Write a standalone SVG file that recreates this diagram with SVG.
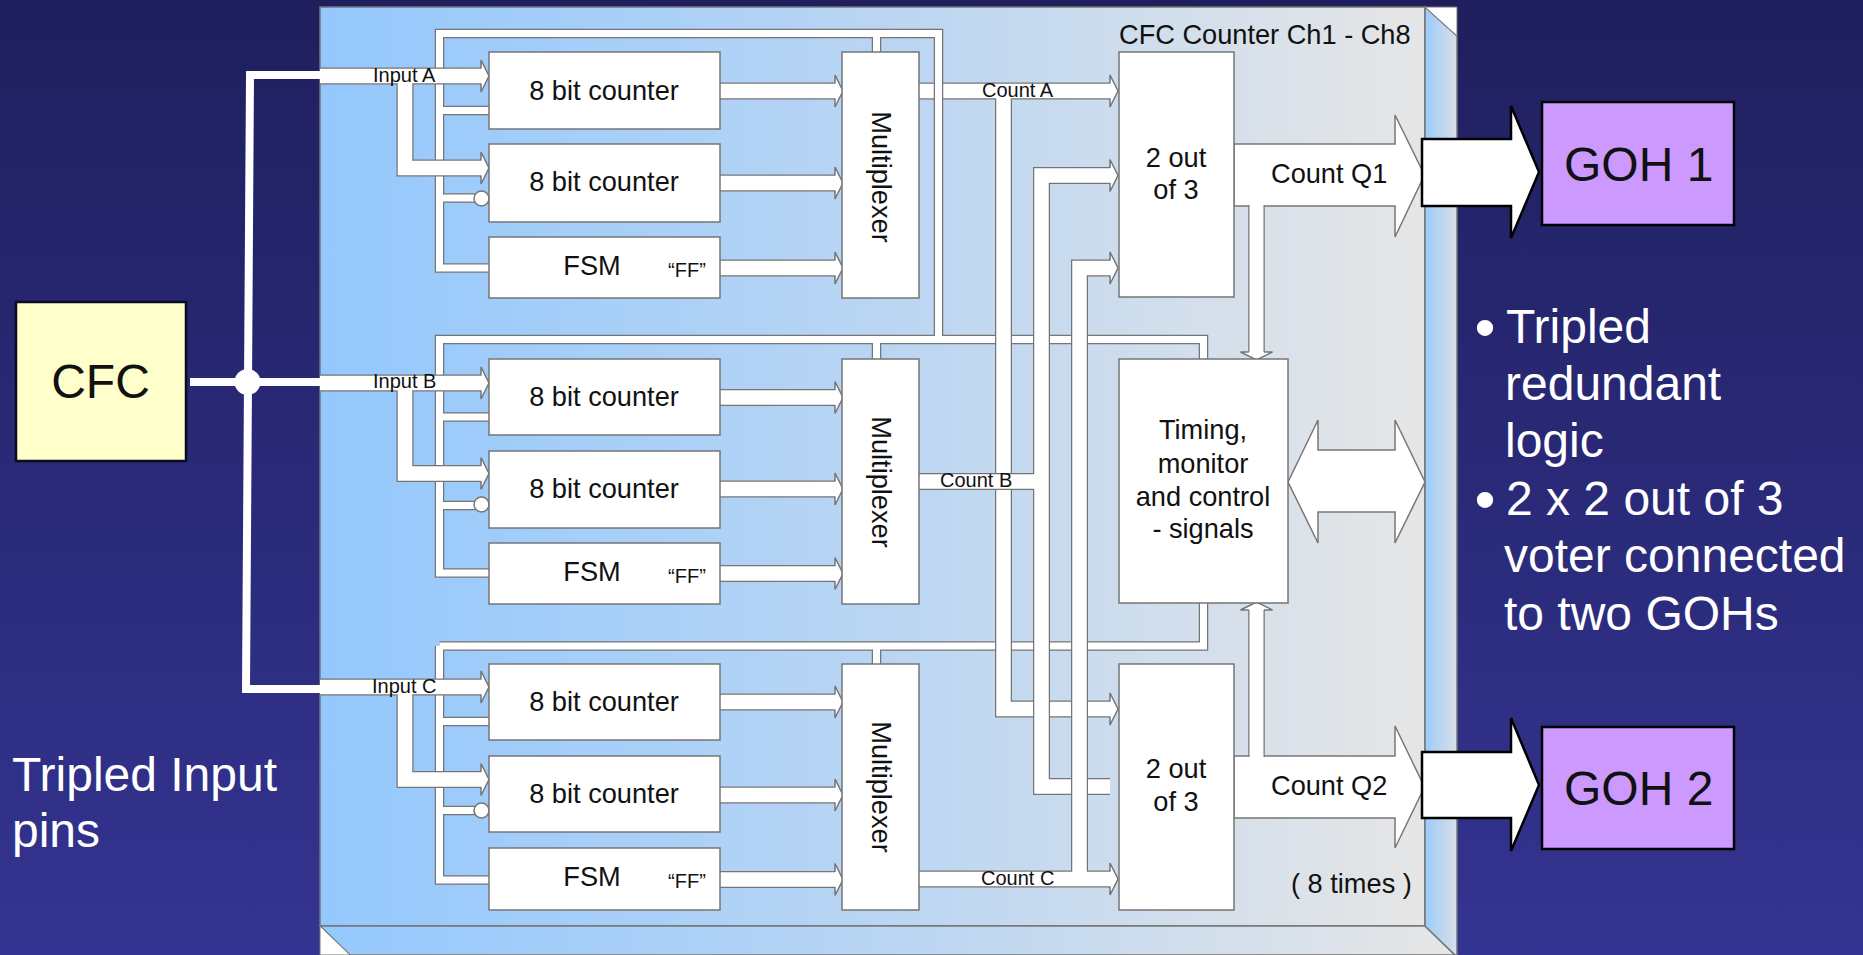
<svg xmlns="http://www.w3.org/2000/svg" width="1863" height="955" viewBox="0 0 1863 955">
<style>
text{font-family:"Liberation Sans",Arial,sans-serif;fill:#111}
.c{text-anchor:middle}
.f27{font-size:27.2px}
.f20{font-size:20px}
.big{font-size:48px;fill:#fff}
.blk{fill:#fff;stroke:#757575;stroke-width:1.5}
.o{fill:none;stroke:#757575;stroke-width:17}
.w{fill:none;stroke:#fff;stroke-width:14.5;marker-end:url(#h)}
.bo{fill:none;stroke:#757575;stroke-width:9.5}
.bw{fill:none;stroke:#fff;stroke-width:7}
.fat{fill:#fff;stroke:#777;stroke-width:1.5}
.ext{fill:#fff;stroke:#000;stroke-width:2.5}
.inv{fill:#fff;stroke:#757575;stroke-width:1.5}
</style>
<defs>
<linearGradient id="bg" x1="0" y1="0" x2="0" y2="1"><stop offset="0" stop-color="#1f1f5e"/><stop offset="1" stop-color="#343492"/></linearGradient>
<linearGradient id="face" x1="0" y1="0" x2="1" y2="0"><stop offset="0" stop-color="#94c8fd"/><stop offset="0.5" stop-color="#b9d5f3"/><stop offset="1" stop-color="#e6e6e6"/></linearGradient>
<linearGradient id="side" x1="0" y1="0" x2="1" y2="0"><stop offset="0" stop-color="#9ccbfb"/><stop offset="1" stop-color="#d8e0e6"/></linearGradient>
<marker id="h" markerUnits="userSpaceOnUse" orient="auto" markerWidth="12" markerHeight="36" refX="0" refY="18" viewBox="0 0 12 36" overflow="visible"><path d="M0 25.5V34L8 18L0 2V10.5" fill="#fff" stroke="#757575" stroke-width="1.5"/></marker>
</defs>
<rect width="1863" height="955" fill="url(#bg)"/>
<g id="panel">
<rect x="320" y="7" width="1105" height="919" fill="url(#face)" stroke="#757575" stroke-width="1.5"/>
<path d="M320 926H1425L1455 955H350Z" fill="url(#face)" stroke="#757575" stroke-width="1.5"/>
<path d="M1425 7L1457 36V955H1455L1425 926Z" fill="url(#side)" stroke="#757575" stroke-width="1.5"/>
<path d="M1425 7H1457V36Z" fill="#fff" stroke="#757575" stroke-width="1"/>
<path d="M320 926L350 955H320Z" fill="#fff" stroke="#757575" stroke-width="1"/>
</g>
<g id="connectors">
<path d="M320 75H250L246 689H320M190 382H320" fill="none" stroke="#fff" stroke-width="8"/>
<circle cx="247.5" cy="382" r="13" fill="#fff"/>
<path class="o" d="M919 91H1110"/><path class="w" d="M919 91H1110"/>
<path class="bo" d="M489 268H439.5V33.5H938.5V339.5H439.5V573H489M439.5 110.5H489M439.5 198H475M876.5 33.5V55M876.5 339.5V362M439.5 417H489M439.5 505.5H475M938.5 339.5H1203.5V362M439.5 646H1203.5V600M489 880H439.5V646M439.5 721.5H489M439.5 810.5H475M876.5 646V667"/>
<path class="bw" d="M489 268H439.5V33.5H938.5V339.5H439.5V573H489M439.5 110.5H489M439.5 198H475M876.5 33.5V55M876.5 339.5V362M439.5 417H489M439.5 505.5H475M938.5 339.5H1203.5V362M439.5 646H1203.5V600M489 880H439.5V646M439.5 721.5H489M439.5 810.5H475M876.5 646V667"/>
<circle class="inv" cx="481.5" cy="198.5" r="7.5"/><circle class="inv" cx="481.5" cy="504.5" r="7.5"/><circle class="inv" cx="481.5" cy="810.5" r="7.5"/>
<path class="o" d="M320 76H481M405 76V168H481"/><path class="w" d="M320 76H481"/><path class="w" d="M405 76V168H481"/>
<path class="o" d="M320 383H481M405 383V473.5H481"/><path class="w" d="M320 383H481"/><path class="w" d="M405 383V473.5H481"/>
<path class="o" d="M320 687H481M405 687V779.5H481"/><path class="w" d="M320 687H481"/><path class="w" d="M405 687V779.5H481"/>
<path class="o" d="M720 91H835"/><path class="w" d="M720 91H835"/>
<path class="o" d="M720 183H835"/><path class="w" d="M720 183H835"/>
<path class="o" d="M720 268H835"/><path class="w" d="M720 268H835"/>
<path class="o" d="M720 397.5H835"/><path class="w" d="M720 397.5H835"/>
<path class="o" d="M720 489H835"/><path class="w" d="M720 489H835"/>
<path class="o" d="M720 573.5H835"/><path class="w" d="M720 573.5H835"/>
<path class="o" d="M720 702H835"/><path class="w" d="M720 702H835"/>
<path class="o" d="M720 795H835"/><path class="w" d="M720 795H835"/>
<path class="o" d="M720 879.5H835"/><path class="w" d="M720 879.5H835"/>
<path class="o" d="M1003.5 99V709H1110"/><path class="w" d="M1003.5 90V709H1110"/>
<path class="o" d="M1110 175.5H1041.5V786.5H1110M919 481.5H1041.5"/><path class="w" d="M1110 786.5H1041.5V175.5H1110"/><path class="w" d="M919 481.5H1041.5" style="marker-end:none"/>
<path class="o" d="M1110 268H1079.5V879M919 879H1110"/><path class="w" d="M1079.5 879V268H1110"/><path class="w" d="M919 879H1110"/>
<path class="fat" d="M1234 144H1395V115L1424.5 175L1395 237V206H1234Z"/>
<path class="fat" d="M1234 756H1395V726L1424.5 787L1395 848V818H1234Z"/>
<path class="o" d="M1256.5 205V352" style="stroke-width:16.5"/><path class="w" d="M1256.5 203V352" style="stroke-width:14"/>
<path class="o" d="M1256.5 757V610" style="stroke-width:16.5"/><path class="w" d="M1256.5 759V610" style="stroke-width:14"/>
<path class="fat" d="M1288 482L1318 420V450H1395V420L1425 482L1395 543V512H1318V543Z"/>
</g>
<g id="counter-a1"><rect class="blk" x="489" y="52" width="231" height="77"/><text class="c f27" x="604" y="100">8 bit counter</text></g>
<g id="counter-a2"><rect class="blk" x="489" y="144" width="231" height="78"/><text class="c f27" x="604" y="191">8 bit counter</text></g>
<g id="fsm-a"><rect class="blk" x="489" y="237" width="231" height="61"/><text class="c f27" x="592" y="275">FSM</text><text class="c f20" x="687" y="277">“FF”</text></g>
<g id="mux-a"><rect class="blk" x="842" y="52" width="77" height="246"/><text class="c f27" transform="translate(872 177) rotate(90)">Multiplexer</text></g>
<g id="counter-b1"><rect class="blk" x="489" y="359" width="231" height="76"/><text class="c f27" x="604" y="406">8 bit counter</text></g>
<g id="counter-b2"><rect class="blk" x="489" y="451" width="231" height="77"/><text class="c f27" x="604" y="498">8 bit counter</text></g>
<g id="fsm-b"><rect class="blk" x="489" y="543" width="231" height="61"/><text class="c f27" x="592" y="581">FSM</text><text class="c f20" x="687" y="583">“FF”</text></g>
<g id="mux-b"><rect class="blk" x="842" y="359" width="77" height="245"/><text class="c f27" transform="translate(872 482) rotate(90)">Multiplexer</text></g>
<g id="counter-c1"><rect class="blk" x="489" y="664" width="231" height="76"/><text class="c f27" x="604" y="711">8 bit counter</text></g>
<g id="counter-c2"><rect class="blk" x="489" y="756" width="231" height="76"/><text class="c f27" x="604" y="803">8 bit counter</text></g>
<g id="fsm-c"><rect class="blk" x="489" y="848" width="231" height="62"/><text class="c f27" x="592" y="886">FSM</text><text class="c f20" x="687" y="888">“FF”</text></g>
<g id="mux-c"><rect class="blk" x="842" y="664" width="77" height="246"/><text class="c f27" transform="translate(872 787) rotate(90)">Multiplexer</text></g>
<g id="voter-1"><rect class="blk" x="1119" y="52" width="115" height="245"/><text class="c f27" x="1176" y="167">2 out</text><text class="c f27" x="1176" y="199">of 3</text></g>
<g id="voter-2"><rect class="blk" x="1119" y="664" width="115" height="246"/><text class="c f27" x="1176" y="778">2 out</text><text class="c f27" x="1176" y="811">of 3</text></g>
<g id="timing"><rect class="blk" x="1119" y="359" width="169" height="244"/><text class="c f27" x="1203" y="439">Timing,</text><text class="c f27" x="1203" y="473">monitor</text><text class="c f27" x="1203" y="506">and control</text><text class="c f27" x="1203" y="538">- signals</text></g>
<g id="labels">
<text class="f27" x="1119" y="44">CFC Counter Ch1 - Ch8</text>
<text class="f27" x="1291" y="893">( 8 times )</text>
<text class="f27" x="1271" y="183">Count Q1</text>
<text class="f27" x="1271" y="795">Count Q2</text>
<text class="f20" x="373" y="82">Input A</text>
<text class="f20" x="373" y="388">Input B</text>
<text class="f20" x="372" y="693">Input C</text>
<text class="f20" x="982" y="97">Count A</text>
<text class="f20" x="940" y="487">Count B</text>
<text class="f20" x="981" y="885">Count C</text>
</g>
<g id="cfc"><rect x="16" y="302" width="170" height="159" fill="#ffffcc" stroke="#0a0a20" stroke-width="2.5"/><text class="c" x="100.5" y="398" font-size="48" fill="#000">CFC</text></g>
<g id="arrow-goh1"><path class="ext" d="M1422 139H1511V106L1539 172L1511 238V206H1422Z"/></g>
<g id="goh1"><rect x="1542" y="102" width="192" height="123" fill="#cc99ff" stroke="#000" stroke-width="2.5"/><text x="1564" y="181" font-size="48" fill="#000">GOH 1</text></g>
<g id="arrow-goh2"><path class="ext" d="M1422 752H1511V718L1539 785L1511 851V818H1422Z"/></g>
<g id="goh2"><rect x="1542" y="727" width="192" height="122" fill="#cc99ff" stroke="#000" stroke-width="2.5"/><text x="1564" y="805" font-size="48" fill="#000">GOH 2</text></g>
<g id="notes">
<text class="big" x="12" y="791">Tripled Input</text>
<text class="big" x="12" y="847">pins</text>
<text class="c" x="1485" y="348" font-size="60" style="fill:#fff">•</text>
<text class="big" x="1506" y="343">Tripled</text>
<text class="big" x="1505" y="400">redundant</text>
<text class="big" x="1505" y="457">logic</text>
<text class="c" x="1485" y="520" font-size="60" style="fill:#fff">•</text>
<text class="big" x="1506" y="515">2 x 2 out of 3</text>
<text class="big" x="1504" y="572">voter connected</text>
<text class="big" x="1504" y="630">to two GOHs</text>
</g>
</svg>
